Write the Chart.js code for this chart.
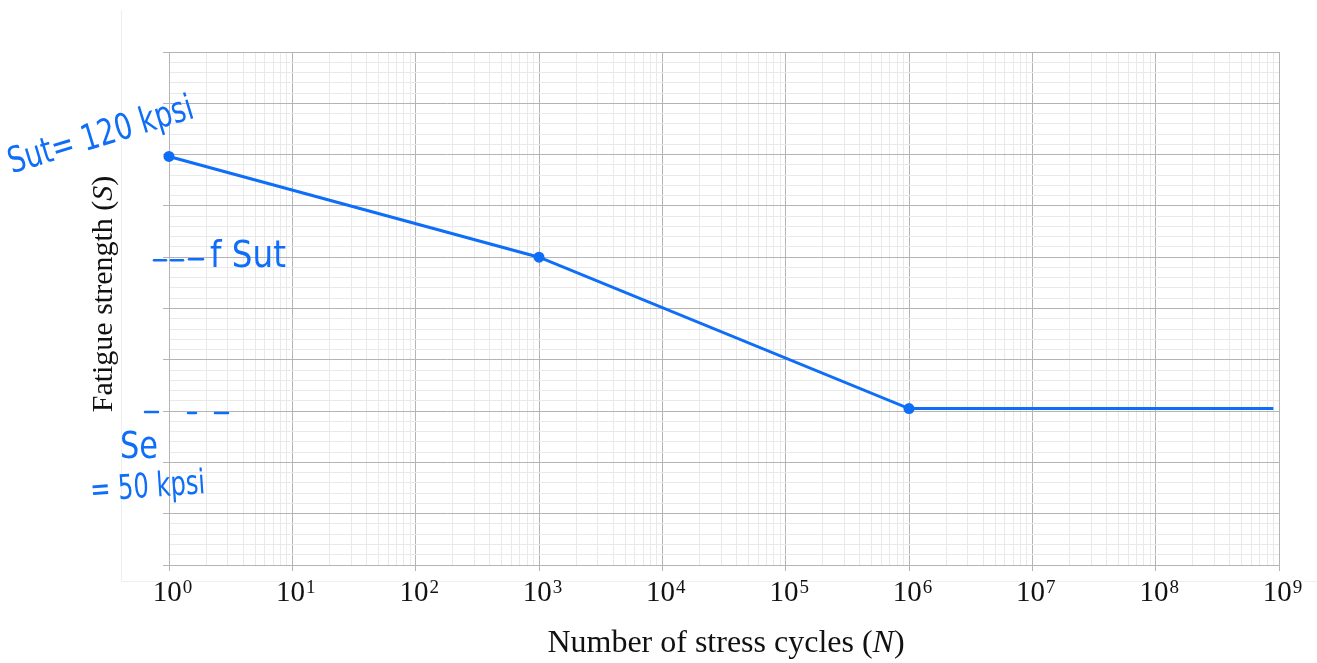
<!DOCTYPE html>
<html>
<head>
<meta charset="utf-8">
<script src="https://cdn.jsdelivr.net/npm/chart.js@4.4.1/dist/chart.umd.min.js"></script>
<style>
  html, body { margin: 0; padding: 0; background: #fff; }
  #wrap { position: relative; width: 1317px; height: 663px; }
</style>
</head>
<body>
<div id="wrap"><canvas id="chart"></canvas></div>
<script>
// S-N curve (strength in kpsi)
const cycles = [1, 1e3, 1e6, 9e8];
const strength = [119.5, 92, 50.7, 50.7];
const pointSizes = [5.5, 5.5, 5.5, 0];

// axes: log decades on x, unlabelled rows on y
const xDecades = [0, 1, 2, 3, 4, 5, 6, 7, 8, 9];
const yMin = 8;
const yMax = 148;
const yRows = 10;
const yMinorPerRow = 5;

// handwritten notes
const noteSut = 'Sut= 120 kpsi';
const noteFSut = 'f Sut';
const noteSe = 'Se';
const noteSeValue = '= 50 kpsi';

const ink = '#0f6ef7';
const majorGrid = '#b4b4b4';
const minorGrid = '#e9e9e9';
const serif = '"Liberation Serif", "Times New Roman", serif';
const hand = '"DejaVu Sans", sans-serif';

// every 1..9 x 10^d line for the log grid
const xTicks = [];
xDecades.forEach((d) => {
  if (d === xDecades[xDecades.length - 1]) {
    xTicks.push(Math.pow(10, d));
    return;
  }
  for (let m = 1; m <= 9; m++) xTicks.push(m * Math.pow(10, d));
});

const yTicks = [];
for (let i = 0; i <= yRows * yMinorPerRow; i++) {
  yTicks.push(yMin + (i * (yMax - yMin)) / (yRows * yMinorPerRow));
}

// fit a string into a given width (handwriting is narrow)
function fitText(ctx, text, x, y, width, angle) {
  const w = ctx.measureText(text).width;
  ctx.save();
  ctx.translate(x, y);
  ctx.rotate(angle || 0);
  ctx.scale(width / w, 1);
  ctx.fillText(text, 0, 0);
  ctx.restore();
}

function dash(ctx, x1, y1, x2, y2) {
  ctx.beginPath();
  ctx.moveTo(x1, y1);
  ctx.lineTo(x2, y2);
  ctx.stroke();
}

const decorations = {
  id: 'decorations',
  beforeDraw(chart) {
    const ctx = chart.ctx;
    ctx.save();
    ctx.fillStyle = '#fff';
    ctx.fillRect(0, 0, chart.width, chart.height);
    // faint outer frame
    ctx.strokeStyle = '#efefef';
    ctx.lineWidth = 1;
    dash(ctx, 121.5, 10, 121.5, 581.5);
    dash(ctx, 121.5, 581.5, chart.width, 581.5);
    ctx.restore();
  },
  afterDraw(chart) {
    const ctx = chart.ctx;
    const xs = chart.scales.x;
    const ys = chart.scales.y;
    const area = chart.chartArea;
    ctx.save();

    // tick labels 10^n
    ctx.fillStyle = '#111';
    ctx.textBaseline = 'alphabetic';
    ctx.textAlign = 'left';
    xDecades.forEach((d) => {
      const px = xs.getPixelForValue(Math.pow(10, d));
      ctx.font = '29px ' + serif;
      const w1 = ctx.measureText('10').width;
      ctx.font = '19px ' + serif;
      const w2 = ctx.measureText(String(d)).width;
      const start = px + 3 - (w1 + w2) / 2;
      ctx.font = '29px ' + serif;
      ctx.fillText('10', start, 601);
      ctx.font = '19px ' + serif;
      ctx.fillText(String(d), start + w1 + 1, 593);
    });

    // x title with italic N
    const xParts = [['Number of stress cycles (', ''], ['N', 'italic '], [')', '']];
    let total = 0;
    xParts.forEach((p) => {
      ctx.font = p[1] + '32px ' + serif;
      total += ctx.measureText(p[0]).width;
    });
    let cx = (area.left + area.right) / 2 + 2 - total / 2;
    xParts.forEach((p) => {
      ctx.font = p[1] + '32px ' + serif;
      ctx.fillText(p[0], cx, 652);
      cx += ctx.measureText(p[0]).width;
    });

    // y title with italic S
    const yParts = [['Fatigue strength (', ''], ['S', 'italic '], [')', '']];
    total = 0;
    yParts.forEach((p) => {
      ctx.font = p[1] + '30px ' + serif;
      total += ctx.measureText(p[0]).width;
    });
    ctx.save();
    ctx.translate(112, 294);
    ctx.rotate(-Math.PI / 2);
    let cy = -total / 2;
    yParts.forEach((p) => {
      ctx.font = p[1] + '30px ' + serif;
      ctx.fillText(p[0], cy, 0);
      cy += ctx.measureText(p[0]).width;
    });
    ctx.restore();

    // handwritten notes, anchored to the curve's levels
    const left = xs.getPixelForValue(1);
    const ySut = ys.getPixelForValue(120);
    const yF = ys.getPixelForValue(strength[1]);
    const ySe = ys.getPixelForValue(50);
    ctx.fillStyle = ink;
    ctx.strokeStyle = ink;
    ctx.lineWidth = 2.5;
    ctx.lineCap = 'round';

    ctx.font = '36px ' + hand;
    fitText(ctx, noteSut, left - 157, ySut + 19, 192, -17 * Math.PI / 180);

    dash(ctx, left - 15, yF + 3, left - 3, yF + 3);
    dash(ctx, left + 2, yF + 3, left + 14, yF + 3);
    dash(ctx, left + 20, yF + 2, left + 34, yF + 2);
    ctx.font = '38px ' + hand;
    fitText(ctx, noteFSut, left + 41, yF + 10, 76, 0);

    dash(ctx, left - 24, ySe + 1, left - 11, ySe + 1);
    dash(ctx, left + 19, ySe + 2, left + 27, ySe + 2);
    dash(ctx, left + 46, ySe + 2, left + 59, ySe + 2);
    ctx.font = '38px ' + hand;
    fitText(ctx, noteSe, left - 49, ySe + 47, 38, 0);
    ctx.font = '34px ' + hand;
    fitText(ctx, noteSeValue, left - 78, ySe + 90, 115, -4 * Math.PI / 180);

    ctx.restore();
  }
};

const ctx = document.getElementById('chart').getContext('2d');

new Chart(ctx, {
  type: 'line',
  data: {
    datasets: [{
      data: cycles.map((c, i) => ({ x: c, y: strength[i] })),
      borderColor: ink,
      borderWidth: 3,
      backgroundColor: ink,
      pointRadius: pointSizes,
      pointBackgroundColor: ink,
      pointBorderWidth: 0,
      tension: 0,
      fill: false,
      clip: false,
    }],
  },
  options: {
    responsive: true,
    maintainAspectRatio: false,
    animation: false,
    layout: { padding: { top: 52, right: 38, left: 0, bottom: 0 } },
    plugins: {
      legend: { display: false },
      tooltip: { enabled: false },
    },
    scales: {
      x: {
        type: 'logarithmic',
        min: 1,
        max: 1e9,
        afterBuildTicks: (scale) => {
          scale.ticks = xTicks.map((v) => ({ value: v }));
        },
        afterFit: (scale) => { scale.height = 98; },
        ticks: { display: false },
        grid: {
          color: (c) => (c.index % 9 === 0 ? majorGrid : minorGrid),
          tickColor: (c) => (c.index % 9 === 0 ? majorGrid : 'rgba(0,0,0,0)'),
          tickLength: 6,
          lineWidth: 1,
        },
        border: { color: majorGrid },
      },
      y: {
        min: yMin,
        max: yMax,
        afterBuildTicks: (scale) => {
          scale.ticks = yTicks.map((v) => ({ value: v }));
        },
        afterFit: (scale) => { scale.width = 169; },
        ticks: { display: false },
        grid: {
          color: (c) => (c.index % yMinorPerRow === 0 ? majorGrid : minorGrid),
          tickColor: (c) => (c.index % yMinorPerRow === 0 ? majorGrid : 'rgba(0,0,0,0)'),
          tickLength: 6,
          lineWidth: 1,
        },
        border: { color: majorGrid },
      },
    },
  },
  plugins: [decorations],
});
</script>
</body>
</html>
